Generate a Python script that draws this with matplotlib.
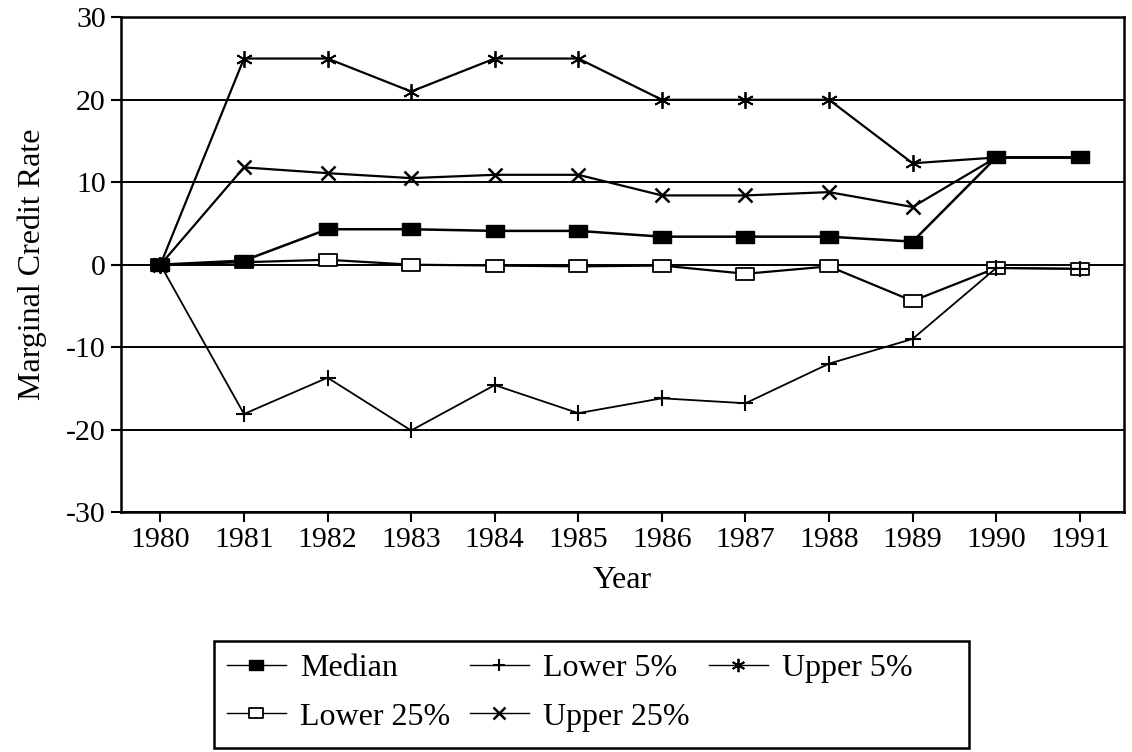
import matplotlib
matplotlib.use('Agg')
import matplotlib.pyplot as plt
from matplotlib.path import Path
from matplotlib.patches import Rectangle

years = [1980, 1981, 1982, 1983, 1984, 1985, 1986, 1987, 1988, 1989, 1990, 1991]
median = [0, 0.5, 4.3, 4.3, 4.1, 4.1, 3.4, 3.4, 3.4, 2.8, 13, 13]
lower_5 = [0, -18.1, -13.7, -20.1, -14.6, -18.0, -16.2, -16.8, -12.0, -9.0, -0.4, -0.5]
upper_5 = [0, 25, 25, 21, 25, 25, 20, 20, 20, 12.3, 13, 13]
lower_25 = [0, 0.3, 0.6, 0, -0.1, -0.2, -0.1, -1.1, -0.2, -4.4, -0.4, -0.5]
upper_25 = [0, 11.8, 11.1, 10.5, 10.9, 10.9, 8.4, 8.4, 8.8, 7.0, 13, 13]
y_ticks = [-30, -20, -10, 0, 10, 20, 30]

plt.rcParams['font.family'] = ['Liberation Serif', 'DejaVu Serif']
plt.rcParams['axes.unicode_minus'] = False

# wide rectangle marker like the scanned original
rect = Path([(-1.5, -1), (1.5, -1), (1.5, 1), (-1.5, 1), (-1.5, -1)],
            [Path.MOVETO, Path.LINETO, Path.LINETO, Path.LINETO, Path.CLOSEPOLY])

W, H = 1132, 752
fig = plt.figure(figsize=(W / 100, H / 100), dpi=100)
ax = fig.add_axes([0.107, 0.319, 0.886, 0.658])

for y in y_ticks:
    ax.axhline(y, color='black', lw=1.4, zorder=1)

# the upper series markers sit under the median squares in 1990/91
ax.plot(years, upper_5, color='black', lw=1.6, marker=(6, 2, 0), ms=12, mew=1.3,
        markevery=range(10), label='Upper 5%', zorder=3)
ax.plot(years, upper_25, color='black', lw=1.6, marker='x', ms=10, mew=1.8,
        markevery=range(10), label='Upper 25%', zorder=3)
ax.plot(years, lower_25, color='black', lw=1.6, marker=rect, ms=13, mew=1.3,
        mfc='white', label='Lower 25%', zorder=4)
ax.plot(years, lower_5, color='black', lw=1.3, marker='+', ms=11, mew=1.5,
        label='Lower 5%', zorder=4.5)
ax.plot(years, median, color='black', lw=1.8, marker=rect, ms=13,
        mfc='black', label='Median', zorder=5)

ax.set_xlim(1979.53, 1991.53)
ax.set_ylim(-30, 30)
ax.set_xticks(years)
ax.set_yticks(y_ticks)
ax.tick_params(direction='out', length=7, width=1.5, labelsize=21.5, pad=4)
for s in ax.spines.values():
    s.set_linewidth(1.8)
ax.set_xlabel('Year', fontsize=23, labelpad=9)
ax.set_ylabel('Marginal Credit Rate', fontsize=23, labelpad=14)

h, l = ax.get_legend_handles_labels()
order = ['Median', 'Lower 25%', 'Lower 5%', 'Upper 25%', 'Upper 5%']
hh = [h[l.index(n)] for n in order]
leg = fig.legend(hh, order, loc='upper left', ncol=3, fontsize=23,
                 bbox_to_anchor=(214 / W, 1 - 641 / H), borderaxespad=0,
                 frameon=False,
                 handlelength=1.85, handletextpad=0.45, columnspacing=0.6,
                 labelspacing=0.6, markerscale=0.8, borderpad=0.4)
for line in leg.get_lines():
    line.set_linewidth(1.0)

# legend box is wider than its entries in the original
fig.patches.append(Rectangle((214 / W, 1 - 748 / H), (969 - 214) / W, (748 - 641) / H,
                             transform=fig.transFigure, fill=False,
                             edgecolor='black', lw=1.8))

fig.savefig('out.png', dpi=100)
